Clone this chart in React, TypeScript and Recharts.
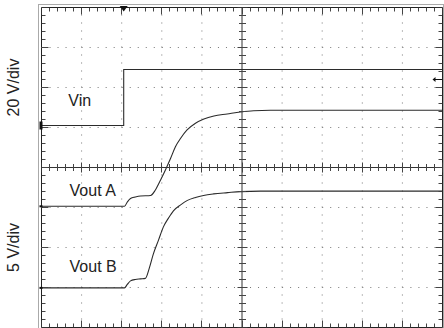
import {
  ComposedChart,
  Line,
  ReferenceArea,
  ReferenceDot,
  ReferenceLine,
  Scatter,
  XAxis,
  YAxis,
} from "recharts";

// time axis is in screen divisions (10 across), voltages in volts per channel
const vinTime = [0, 2.05, 2.05, 10];
const vinVolts = [0, 0, 28, 28];

const voutATime = [
  0, 2.07, 2.14, 2.22, 2.34, 2.47, 2.72, 2.84, 2.97, 3.09, 3.22, 3.34, 3.47,
  3.63, 3.84, 4.05, 4.3, 4.63, 4.96, 5.29, 5.71, 10,
];
const voutAVolts = [
  0, 0, 0.54, 0.98, 1.16, 1.29, 1.35, 2.04, 3.29, 4.54, 6.0, 7.45, 8.5, 9.54,
  10.38, 10.91, 11.29, 11.54, 11.79, 11.95, 12.0, 12.0,
];

const voutBTime = [
  0, 2.07, 2.14, 2.22, 2.34, 2.47, 2.59, 2.69, 2.79, 2.92, 3.04, 3.17, 3.29,
  3.47, 3.64, 3.84, 4.04, 4.29, 4.64, 4.96, 5.46, 10,
];
const voutBVolts = [
  0, 0, 0.44, 0.88, 1.06, 1.13, 1.19, 2.5, 4.25, 6.0, 7.63, 8.75, 9.63, 10.38,
  10.94, 11.31, 11.56, 11.75, 11.91, 12.04, 12.1, 12.1,
];

const traceNames = ["Vin", "Vout A", "Vout B"];
const scaleTitles = ["20 V/div", "5 V/div"];

// scope setup: volts per division and where the ground marker sits (in divisions from bottom)
const CH_VIN = { voltsPerDiv: 20, groundDiv: 5.05 };
const CH_A = { voltsPerDiv: 5, groundDiv: 3.03 };
const CH_B = { voltsPerDiv: 5, groundDiv: 0.99 };
const TRIGGER_TIME = 2.05;
const TRIGGER_LEVEL = 23;

const DIV_X = 10;
const DIV_Y = 8;
const SUB = 5;

const toPoints = (ts: number[], vs: number[]) =>
  ts.map((t, i) => ({ t, v: vs[i] }));

const chDomain = (ch: { voltsPerDiv: number; groundDiv: number }) => [
  -ch.groundDiv * ch.voltsPerDiv,
  (DIV_Y - ch.groundDiv) * ch.voltsPerDiv,
];

type Tick = { t: number; v: number; side: string; major: boolean };
const gratTicks: Tick[] = [];
for (let i = 0; i <= DIV_X * SUB; i++) {
  const t = i / SUB;
  const major = i % SUB === 0;
  gratTicks.push({ t, v: 0, side: "bottom", major });
  gratTicks.push({ t, v: DIV_Y, side: "top", major });
  gratTicks.push({ t, v: DIV_Y / 2, side: "hc", major });
}
for (let j = 0; j <= DIV_Y * SUB; j++) {
  const v = j / SUB;
  const major = j % SUB === 0;
  gratTicks.push({ t: 0, v, side: "left", major });
  gratTicks.push({ t: DIV_X, v, side: "right", major });
  gratTicks.push({ t: DIV_X / 2, v, side: "vc", major });
}

const snap = (n: number) => Math.round(n - 0.5) + 0.5;
const INK = "#2b2b2b";
const FONT = "'Liberation Sans', Arial, sans-serif";

function GratTick(props: any) {
  const { cx, cy, payload } = props;
  if (cx == null || cy == null || !payload) return null;
  const x = snap(cx);
  const y = snap(cy);
  const len = payload.major ? 7 : 4;
  const half = payload.major ? 5 : 3.5;
  let x1 = x, x2 = x, y1 = y, y2 = y;
  switch (payload.side) {
    case "top": y2 = y + len; break;
    case "bottom": y2 = y - len; break;
    case "left": x2 = x + len; break;
    case "right": x2 = x - len; break;
    case "hc": y1 = y - half; y2 = y + half; break;
    case "vc": x1 = x - half; x2 = x + half; break;
  }
  return <line x1={x1} y1={y1} x2={x2} y2={y2} stroke="#444" strokeWidth={1} />;
}

const textShape = (label: string) => (p: any) => (
  <text x={p.cx} y={p.cy} fontSize={16} fontFamily={FONT} fill="#222">
    {label}
  </text>
);

const titleShape = (label: string) => (p: any) => (
  <text
    x={p.cx}
    y={p.cy}
    transform={`rotate(-90 ${p.cx} ${p.cy})`}
    textAnchor="middle"
    dominantBaseline="central"
    fontSize={16}
    fontFamily={FONT}
    fill="#222"
  >
    {label}
  </text>
);

const groundMark = (h: number) => (p: any) => (
  <rect x={p.cx - 2} y={p.cy - h / 2} width={3} height={h} fill="#111" />
);

const triggerMark = (p: any) => (
  <polygon
    points={`${p.cx - 4},${p.cy - 1.5} ${p.cx + 4},${p.cy - 1.5} ${p.cx},${p.cy + 4}`}
    fill="#111"
  />
);

const levelMark = (p: any) => (
  <g>
    <line x1={p.cx - 9} y1={p.cy} x2={p.cx} y2={p.cy} stroke="#111" strokeWidth={1} />
    <polygon
      points={`${p.cx - 10},${p.cy} ${p.cx - 7},${p.cy - 2.5} ${p.cx - 7},${p.cy + 2.5}`}
      fill="#111"
    />
  </g>
);

const gridX = [1, 2, 3, 4, 6, 7, 8, 9];
const gridY = [1, 2, 3, 5, 6, 7];

export default function App() {
  return (
    <div style={{ position: "absolute", left: 0, top: 0, width: 444, height: 328, background: "#fff" }}>
      <div
        style={{
          position: "absolute",
          left: 38,
          top: 4,
          width: 404,
          height: 324,
          borderTop: "1px solid #aaa",
          borderLeft: "1px solid #aaa",
          borderRight: "1px solid #aaa",
        }}
      />
      <ComposedChart
        width={444}
        height={328}
        margin={{ top: 7.5, right: 1.5, left: 41.5, bottom: 0.5 }}
        style={{ position: "absolute", left: 0, top: 0 }}
      >
        <XAxis dataKey="t" type="number" domain={[0, DIV_X]} allowDataOverflow hide />
        <YAxis yAxisId="div" type="number" domain={[0, DIV_Y]} allowDataOverflow hide />
        <YAxis yAxisId="vin" type="number" domain={chDomain(CH_VIN)} allowDataOverflow hide />
        <YAxis yAxisId="a" type="number" domain={chDomain(CH_A)} allowDataOverflow hide />
        <YAxis yAxisId="b" type="number" domain={chDomain(CH_B)} allowDataOverflow hide />

        {gridX.map((k) => (
          <ReferenceLine key={`gx${k}`} yAxisId="div" x={k} stroke="#777" strokeDasharray="1 7" />
        ))}
        {gridY.map((k) => (
          <ReferenceLine key={`gy${k}`} yAxisId="div" y={k} stroke="#777" strokeDasharray="1 7.02" />
        ))}
        <ReferenceLine yAxisId="div" x={DIV_X / 2} stroke="#333" />
        <ReferenceLine yAxisId="div" y={DIV_Y / 2} stroke="#333" />
        <ReferenceArea yAxisId="div" x1={0} x2={DIV_X} y1={0} y2={DIV_Y} fill="none" stroke="#222" />

        <Scatter
          yAxisId="div"
          data={gratTicks}
          dataKey="v"
          shape={GratTick}
          legendType="none"
          isAnimationActive={false}
        />

        <Line yAxisId="vin" data={toPoints(vinTime, vinVolts)} dataKey="v" type="linear"
          stroke={INK} strokeWidth={1.1} dot={false} activeDot={false} isAnimationActive={false} />
        <Line yAxisId="a" data={toPoints(voutATime, voutAVolts)} dataKey="v" type="monotone"
          stroke={INK} strokeWidth={1.1} dot={false} activeDot={false} isAnimationActive={false} />
        <Line yAxisId="b" data={toPoints(voutBTime, voutBVolts)} dataKey="v" type="monotone"
          stroke={INK} strokeWidth={1.1} dot={false} activeDot={false} isAnimationActive={false} />

        <ReferenceDot yAxisId="vin" x={0} y={0} shape={groundMark(8)} ifOverflow="visible" />
        <ReferenceDot yAxisId="a" x={0} y={0} shape={groundMark(2)} ifOverflow="visible" />
        <ReferenceDot yAxisId="b" x={0} y={0} shape={groundMark(2)} ifOverflow="visible" />
        <ReferenceDot yAxisId="div" x={TRIGGER_TIME} y={DIV_Y} shape={triggerMark} ifOverflow="visible" />
        <ReferenceDot yAxisId="vin" x={DIV_X} y={TRIGGER_LEVEL} shape={levelMark} ifOverflow="visible" />

        <ReferenceDot yAxisId="div" x={0.67} y={5.54} shape={textShape(traceNames[0])} ifOverflow="visible" />
        <ReferenceDot yAxisId="div" x={0.7} y={3.29} shape={textShape(traceNames[1])} ifOverflow="visible" />
        <ReferenceDot yAxisId="div" x={0.7} y={1.39} shape={textShape(traceNames[2])} ifOverflow="visible" />
        <ReferenceDot yAxisId="div" x={-0.71} y={6} shape={titleShape(scaleTitles[0])} ifOverflow="visible" />
        <ReferenceDot yAxisId="div" x={-0.71} y={2} shape={titleShape(scaleTitles[1])} ifOverflow="visible" />
      </ComposedChart>
    </div>
  );
}
